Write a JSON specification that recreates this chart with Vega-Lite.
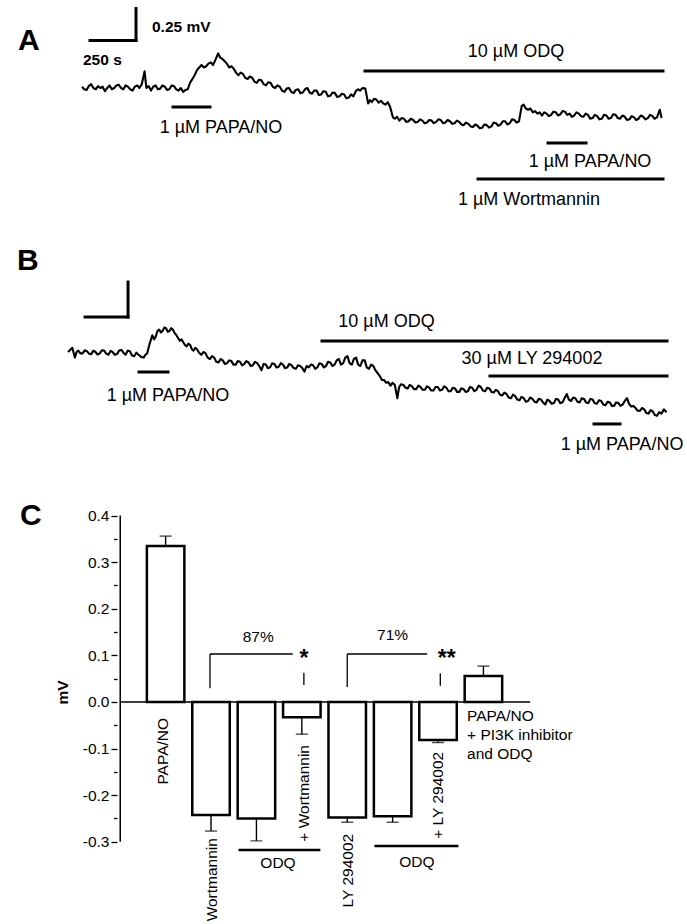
{
  "$schema": "https://vega.github.io/schema/vega-lite/v6.json",
  "padding": 0,
  "spacing": 0,
  "bounds": "flush",
  "config": {"view": {"stroke": null}, "font": "Liberation Sans", "text": {"color": "black"}},
  "vconcat": [
    {
      "width": 687, "height": 215,
      "encoding": {
        "x": {"field": "t", "type": "quantitative", "scale": {"domain": [-445.65, 3288.05], "nice": false, "zero": false}, "axis": null},
        "y": {"field": "v", "type": "quantitative", "scale": {"domain": [-0.9922, 0.6875], "nice": false, "zero": false}, "axis": null}
      },
      "layer": [
        {
          "data": {"values": [
            {"t":0,"v":0.01},{"t":12,"v":-0.01},{"t":25,"v":-0.015},{"t":37,"v":0.015},{"t":50,"v":0.03},{"t":62,"v":0.0},{"t":75,"v":-0.01},{"t":87,"v":0.015},{"t":100,"v":0.0},{"t":112,"v":0.01},{"t":125,"v":-0.025},{"t":137,"v":0.0},{"t":150,"v":0.02},{"t":162,"v":-0.01},{"t":175,"v":0.0},{"t":187,"v":0.02},{"t":200,"v":0.025},{"t":212,"v":0.0},{"t":225,"v":-0.01},{"t":237,"v":0.02},{"t":250,"v":0.01},{"t":262,"v":-0.01},{"t":275,"v":-0.02},{"t":287,"v":0.01},{"t":300,"v":0.02},{"t":312,"v":0.0},{"t":325,"v":0.03},{"t":340,"v":0.13},{"t":350,"v":0.0},{"t":362,"v":0.015},{"t":375,"v":-0.02},{"t":387,"v":0.01},{"t":400,"v":0.02},{"t":412,"v":-0.01},{"t":425,"v":-0.005},{"t":437,"v":0.02},{"t":450,"v":0.01},{"t":462,"v":-0.015},{"t":475,"v":-0.01},{"t":487,"v":0.02},{"t":500,"v":0.015},{"t":512,"v":-0.01},{"t":525,"v":-0.02},{"t":537,"v":0.0},{"t":550,"v":-0.03},{"t":562,"v":-0.015},{"t":575,"v":-0.01},{"t":587,"v":0.04},{"t":600,"v":0.07},{"t":612,"v":0.1},{"t":625,"v":0.14},{"t":637,"v":0.16},{"t":650,"v":0.18},{"t":662,"v":0.16},{"t":675,"v":0.17},{"t":687,"v":0.19},{"t":700,"v":0.2},{"t":712,"v":0.18},{"t":725,"v":0.22},{"t":740,"v":0.27},{"t":750,"v":0.24},{"t":760,"v":0.23},{"t":775,"v":0.21},{"t":787,"v":0.19},{"t":800,"v":0.16},{"t":812,"v":0.17},{"t":825,"v":0.15},{"t":837,"v":0.12},{"t":850,"v":0.1},{"t":862,"v":0.12},{"t":875,"v":0.11},{"t":887,"v":0.08},{"t":900,"v":0.07},{"t":912,"v":0.09},{"t":925,"v":0.08},{"t":937,"v":0.05},{"t":950,"v":0.04},{"t":962,"v":0.065},{"t":975,"v":0.06},{"t":987,"v":0.03},{"t":1000,"v":0.02},{"t":1012,"v":0.045},{"t":1025,"v":0.04},{"t":1037,"v":0.01},{"t":1050,"v":0.0},{"t":1062,"v":0.02},{"t":1075,"v":0.01},{"t":1087,"v":-0.02},{"t":1100,"v":-0.03},{"t":1112,"v":-0.005},{"t":1125,"v":0.0},{"t":1137,"v":-0.03},{"t":1150,"v":-0.04},{"t":1162,"v":-0.015},{"t":1175,"v":-0.01},{"t":1187,"v":-0.04},{"t":1200,"v":-0.035},{"t":1212,"v":-0.01},{"t":1225,"v":0.0},{"t":1237,"v":-0.035},{"t":1250,"v":-0.045},{"t":1262,"v":-0.02},{"t":1275,"v":-0.02},{"t":1287,"v":-0.055},{"t":1300,"v":-0.05},{"t":1312,"v":-0.025},{"t":1325,"v":-0.03},{"t":1337,"v":-0.065},{"t":1350,"v":-0.06},{"t":1362,"v":-0.035},{"t":1375,"v":-0.04},{"t":1387,"v":-0.07},{"t":1400,"v":-0.065},{"t":1412,"v":-0.045},{"t":1425,"v":-0.05},{"t":1437,"v":-0.08},{"t":1450,"v":-0.075},{"t":1462,"v":-0.05},{"t":1475,"v":-0.065},{"t":1490,"v":-0.02},{"t":1500,"v":-0.01},{"t":1512,"v":-0.02},{"t":1525,"v":0.0},{"t":1540,"v":-0.005},{"t":1555,"v":-0.12},{"t":1565,"v":-0.095},{"t":1575,"v":-0.11},{"t":1587,"v":-0.085},{"t":1600,"v":-0.09},{"t":1612,"v":-0.115},{"t":1625,"v":-0.1},{"t":1637,"v":-0.12},{"t":1650,"v":-0.13},{"t":1662,"v":-0.11},{"t":1675,"v":-0.15},{"t":1690,"v":-0.23},{"t":1700,"v":-0.24},{"t":1712,"v":-0.225},{"t":1725,"v":-0.255},{"t":1737,"v":-0.235},{"t":1750,"v":-0.24},{"t":1762,"v":-0.265},{"t":1775,"v":-0.26},{"t":1787,"v":-0.24},{"t":1800,"v":-0.25},{"t":1812,"v":-0.27},{"t":1825,"v":-0.265},{"t":1837,"v":-0.245},{"t":1850,"v":-0.255},{"t":1862,"v":-0.275},{"t":1875,"v":-0.27},{"t":1887,"v":-0.25},{"t":1900,"v":-0.255},{"t":1912,"v":-0.275},{"t":1925,"v":-0.265},{"t":1937,"v":-0.245},{"t":1950,"v":-0.25},{"t":1962,"v":-0.275},{"t":1975,"v":-0.27},{"t":1987,"v":-0.25},{"t":2000,"v":-0.26},{"t":2012,"v":-0.28},{"t":2025,"v":-0.275},{"t":2037,"v":-0.255},{"t":2050,"v":-0.265},{"t":2062,"v":-0.285},{"t":2075,"v":-0.29},{"t":2087,"v":-0.27},{"t":2100,"v":-0.28},{"t":2112,"v":-0.3},{"t":2125,"v":-0.305},{"t":2137,"v":-0.285},{"t":2150,"v":-0.295},{"t":2162,"v":-0.315},{"t":2175,"v":-0.31},{"t":2187,"v":-0.285},{"t":2200,"v":-0.29},{"t":2212,"v":-0.31},{"t":2225,"v":-0.3},{"t":2237,"v":-0.27},{"t":2250,"v":-0.275},{"t":2262,"v":-0.295},{"t":2275,"v":-0.285},{"t":2287,"v":-0.26},{"t":2300,"v":-0.26},{"t":2312,"v":-0.285},{"t":2325,"v":-0.275},{"t":2337,"v":-0.245},{"t":2350,"v":-0.25},{"t":2362,"v":-0.27},{"t":2375,"v":-0.26},{"t":2390,"v":-0.14},{"t":2400,"v":-0.13},{"t":2412,"v":-0.16},{"t":2425,"v":-0.17},{"t":2437,"v":-0.16},{"t":2450,"v":-0.19},{"t":2462,"v":-0.18},{"t":2475,"v":-0.2},{"t":2487,"v":-0.19},{"t":2500,"v":-0.215},{"t":2512,"v":-0.19},{"t":2525,"v":-0.2},{"t":2537,"v":-0.22},{"t":2550,"v":-0.21},{"t":2562,"v":-0.185},{"t":2575,"v":-0.19},{"t":2587,"v":-0.215},{"t":2600,"v":-0.205},{"t":2612,"v":-0.18},{"t":2625,"v":-0.185},{"t":2637,"v":-0.21},{"t":2650,"v":-0.2},{"t":2662,"v":-0.225},{"t":2675,"v":-0.215},{"t":2687,"v":-0.19},{"t":2700,"v":-0.2},{"t":2712,"v":-0.22},{"t":2725,"v":-0.225},{"t":2737,"v":-0.2},{"t":2750,"v":-0.21},{"t":2762,"v":-0.24},{"t":2775,"v":-0.235},{"t":2787,"v":-0.21},{"t":2800,"v":-0.22},{"t":2812,"v":-0.245},{"t":2825,"v":-0.24},{"t":2837,"v":-0.21},{"t":2850,"v":-0.215},{"t":2862,"v":-0.24},{"t":2875,"v":-0.235},{"t":2887,"v":-0.205},{"t":2900,"v":-0.21},{"t":2912,"v":-0.235},{"t":2925,"v":-0.24},{"t":2937,"v":-0.215},{"t":2950,"v":-0.225},{"t":2962,"v":-0.25},{"t":2975,"v":-0.245},{"t":2987,"v":-0.22},{"t":3000,"v":-0.23},{"t":3012,"v":-0.25},{"t":3025,"v":-0.24},{"t":3037,"v":-0.215},{"t":3050,"v":-0.225},{"t":3062,"v":-0.245},{"t":3075,"v":-0.235},{"t":3087,"v":-0.21},{"t":3100,"v":-0.22},{"t":3112,"v":-0.24},{"t":3125,"v":-0.23},{"t":3140,"v":-0.17},{"t":3150,"v":-0.235}
          ]},
          "mark": {"type": "line", "color": "black", "strokeWidth": 2.1, "strokeJoin": "round"}
        },
        {
          "data": {"values": [
            {"t": 43.5, "t2": 293.5, "v": 0.371},
            {"t": 494.6, "t2": 695.7, "v": -0.148},
            {"t": 1538, "t2": 3157.6, "v": 0.133},
            {"t": 2532.6, "t2": 2739.1, "v": -0.43},
            {"t": 2152.2, "t2": 3157.6, "v": -0.711}
          ]},
          "mark": {"type": "rule", "color": "black", "strokeWidth": 3, "strokeCap": "square"},
          "encoding": {"x2": {"field": "t2"}}
        },
        {
          "data": {"values": [{"t": 293.5, "v": 0.371, "v2": 0.621}]},
          "mark": {"type": "rule", "color": "black", "strokeWidth": 3, "strokeCap": "square"},
          "encoding": {"y2": {"field": "v2"}}
        },
        {
          "data": {"values": [
            {"t": 755.4, "v": -0.3125, "label": "1 µM PAPA/NO"},
            {"t": 2358.7, "v": 0.281, "label": "10 µM ODQ"},
            {"t": 2760.9, "v": -0.578, "label": "1 µM PAPA/NO"},
            {"t": 2429.4, "v": -0.875, "label": "1 µM Wortmannin"}
          ]},
          "mark": {"type": "text", "fontSize": 18, "align": "center", "baseline": "middle"},
          "encoding": {"text": {"field": "label"}}
        },
        {
          "data": {"values": [
            {"t": 380.4, "v": 0.477, "label": "0.25 mV"},
            {"t": 5.4, "v": 0.219, "label": "250 s"}
          ]},
          "mark": {"type": "text", "fontSize": 15.5, "fontWeight": "bold", "align": "left", "baseline": "middle"},
          "encoding": {"text": {"field": "label"}}
        },
        {
          "data": {"values": [{"t": -347.8, "v": 0.367, "label": "A"}]},
          "mark": {"type": "text", "fontSize": 30, "fontWeight": "bold", "align": "left", "baseline": "middle"},
          "encoding": {"text": {"field": "label"}}
        }
      ]
    },
    {
      "width": 687, "height": 245,
      "encoding": {
        "x": {"field": "t", "type": "quantitative", "scale": {"domain": [-395.35, 3598.87], "nice": false, "zero": false}, "axis": null},
        "y": {"field": "v", "type": "quantitative", "scale": {"domain": [-0.7714, 0.9786], "nice": false, "zero": false}, "axis": null}
      },
      "layer": [
        {
          "data": {"values": [
            {"t":0,"v":0.0},{"t":12,"v":0.015},{"t":25,"v":0.03},{"t":40,"v":-0.04},{"t":50,"v":0.0},{"t":60,"v":0.01},{"t":72,"v":-0.01},{"t":85,"v":-0.01},{"t":97,"v":0.012},{"t":110,"v":0.005},{"t":122,"v":-0.012},{"t":135,"v":-0.015},{"t":147,"v":0.01},{"t":160,"v":0.0},{"t":172,"v":-0.018},{"t":185,"v":-0.01},{"t":197,"v":0.012},{"t":210,"v":0.01},{"t":222,"v":-0.012},{"t":235,"v":-0.02},{"t":247,"v":0.008},{"t":260,"v":0.0},{"t":272,"v":-0.02},{"t":285,"v":-0.015},{"t":297,"v":0.01},{"t":310,"v":0.015},{"t":322,"v":-0.005},{"t":335,"v":-0.02},{"t":347,"v":0.01},{"t":360,"v":0.005},{"t":372,"v":-0.025},{"t":385,"v":-0.03},{"t":397,"v":-0.005},{"t":410,"v":-0.02},{"t":425,"v":-0.035},{"t":440,"v":-0.04},{"t":450,"v":-0.02},{"t":460,"v":-0.01},{"t":475,"v":0.06},{"t":490,"v":0.12},{"t":500,"v":0.09},{"t":510,"v":0.11},{"t":520,"v":0.15},{"t":530,"v":0.16},{"t":540,"v":0.14},{"t":550,"v":0.15},{"t":560,"v":0.175},{"t":570,"v":0.17},{"t":580,"v":0.145},{"t":590,"v":0.15},{"t":600,"v":0.17},{"t":610,"v":0.16},{"t":620,"v":0.135},{"t":630,"v":0.12},{"t":640,"v":0.1},{"t":650,"v":0.08},{"t":660,"v":0.09},{"t":670,"v":0.07},{"t":680,"v":0.05},{"t":690,"v":0.04},{"t":700,"v":0.06},{"t":710,"v":0.05},{"t":720,"v":0.02},{"t":730,"v":0.01},{"t":740,"v":0.03},{"t":750,"v":0.02},{"t":762,"v":-0.005},{"t":775,"v":-0.02},{"t":787,"v":0.0},{"t":800,"v":-0.01},{"t":812,"v":-0.04},{"t":825,"v":-0.05},{"t":837,"v":-0.03},{"t":850,"v":-0.04},{"t":862,"v":-0.07},{"t":875,"v":-0.075},{"t":887,"v":-0.05},{"t":900,"v":-0.06},{"t":912,"v":-0.085},{"t":925,"v":-0.08},{"t":937,"v":-0.06},{"t":950,"v":-0.065},{"t":962,"v":-0.09},{"t":975,"v":-0.09},{"t":987,"v":-0.065},{"t":1000,"v":-0.07},{"t":1012,"v":-0.095},{"t":1025,"v":-0.085},{"t":1037,"v":-0.065},{"t":1050,"v":-0.075},{"t":1062,"v":-0.1},{"t":1075,"v":-0.095},{"t":1087,"v":-0.07},{"t":1100,"v":-0.08},{"t":1112,"v":-0.1},{"t":1125,"v":-0.13},{"t":1137,"v":-0.085},{"t":1150,"v":-0.09},{"t":1162,"v":-0.115},{"t":1175,"v":-0.11},{"t":1187,"v":-0.08},{"t":1200,"v":-0.085},{"t":1212,"v":-0.11},{"t":1225,"v":-0.105},{"t":1237,"v":-0.08},{"t":1250,"v":-0.09},{"t":1262,"v":-0.115},{"t":1275,"v":-0.11},{"t":1287,"v":-0.085},{"t":1300,"v":-0.095},{"t":1312,"v":-0.115},{"t":1325,"v":-0.12},{"t":1337,"v":-0.095},{"t":1350,"v":-0.1},{"t":1362,"v":-0.115},{"t":1375,"v":-0.14},{"t":1387,"v":-0.1},{"t":1400,"v":-0.11},{"t":1412,"v":-0.09},{"t":1425,"v":-0.095},{"t":1437,"v":-0.12},{"t":1450,"v":-0.11},{"t":1462,"v":-0.08},{"t":1475,"v":-0.085},{"t":1487,"v":-0.11},{"t":1500,"v":-0.1},{"t":1512,"v":-0.07},{"t":1525,"v":-0.075},{"t":1537,"v":-0.1},{"t":1550,"v":-0.09},{"t":1562,"v":-0.06},{"t":1575,"v":-0.05},{"t":1587,"v":-0.09},{"t":1600,"v":-0.08},{"t":1612,"v":-0.04},{"t":1625,"v":-0.03},{"t":1637,"v":-0.08},{"t":1650,"v":-0.09},{"t":1662,"v":-0.05},{"t":1675,"v":-0.04},{"t":1687,"v":-0.09},{"t":1700,"v":-0.1},{"t":1712,"v":-0.06},{"t":1725,"v":-0.06},{"t":1737,"v":-0.11},{"t":1750,"v":-0.12},{"t":1762,"v":-0.09},{"t":1775,"v":-0.1},{"t":1787,"v":-0.13},{"t":1800,"v":-0.15},{"t":1812,"v":-0.17},{"t":1825,"v":-0.2},{"t":1837,"v":-0.2},{"t":1850,"v":-0.22},{"t":1862,"v":-0.215},{"t":1875,"v":-0.24},{"t":1887,"v":-0.22},{"t":1900,"v":-0.235},{"t":1915,"v":-0.33},{"t":1925,"v":-0.25},{"t":1937,"v":-0.23},{"t":1950,"v":-0.235},{"t":1962,"v":-0.255},{"t":1975,"v":-0.26},{"t":1987,"v":-0.235},{"t":2000,"v":-0.245},{"t":2012,"v":-0.265},{"t":2025,"v":-0.265},{"t":2037,"v":-0.24},{"t":2050,"v":-0.25},{"t":2062,"v":-0.27},{"t":2075,"v":-0.27},{"t":2087,"v":-0.245},{"t":2100,"v":-0.255},{"t":2112,"v":-0.275},{"t":2125,"v":-0.275},{"t":2137,"v":-0.25},{"t":2150,"v":-0.25},{"t":2162,"v":-0.275},{"t":2175,"v":-0.27},{"t":2187,"v":-0.245},{"t":2200,"v":-0.255},{"t":2212,"v":-0.28},{"t":2225,"v":-0.28},{"t":2237,"v":-0.255},{"t":2250,"v":-0.26},{"t":2262,"v":-0.285},{"t":2275,"v":-0.285},{"t":2287,"v":-0.26},{"t":2300,"v":-0.265},{"t":2312,"v":-0.285},{"t":2325,"v":-0.28},{"t":2337,"v":-0.25},{"t":2350,"v":-0.255},{"t":2362,"v":-0.28},{"t":2375,"v":-0.27},{"t":2387,"v":-0.24},{"t":2400,"v":-0.25},{"t":2412,"v":-0.275},{"t":2425,"v":-0.28},{"t":2437,"v":-0.255},{"t":2450,"v":-0.26},{"t":2462,"v":-0.285},{"t":2475,"v":-0.29},{"t":2487,"v":-0.27},{"t":2500,"v":-0.28},{"t":2512,"v":-0.305},{"t":2525,"v":-0.31},{"t":2537,"v":-0.29},{"t":2550,"v":-0.3},{"t":2562,"v":-0.325},{"t":2575,"v":-0.33},{"t":2587,"v":-0.305},{"t":2600,"v":-0.315},{"t":2612,"v":-0.34},{"t":2625,"v":-0.345},{"t":2637,"v":-0.32},{"t":2650,"v":-0.33},{"t":2662,"v":-0.355},{"t":2675,"v":-0.35},{"t":2687,"v":-0.325},{"t":2700,"v":-0.335},{"t":2712,"v":-0.355},{"t":2725,"v":-0.36},{"t":2737,"v":-0.335},{"t":2750,"v":-0.34},{"t":2762,"v":-0.36},{"t":2775,"v":-0.375},{"t":2787,"v":-0.34},{"t":2800,"v":-0.35},{"t":2812,"v":-0.37},{"t":2825,"v":-0.365},{"t":2837,"v":-0.335},{"t":2850,"v":-0.34},{"t":2862,"v":-0.365},{"t":2875,"v":-0.36},{"t":2887,"v":-0.33},{"t":2900,"v":-0.3},{"t":2912,"v":-0.34},{"t":2925,"v":-0.35},{"t":2937,"v":-0.325},{"t":2950,"v":-0.33},{"t":2962,"v":-0.355},{"t":2975,"v":-0.36},{"t":2987,"v":-0.33},{"t":3000,"v":-0.335},{"t":3012,"v":-0.36},{"t":3025,"v":-0.365},{"t":3037,"v":-0.335},{"t":3050,"v":-0.34},{"t":3062,"v":-0.365},{"t":3075,"v":-0.37},{"t":3087,"v":-0.345},{"t":3100,"v":-0.35},{"t":3112,"v":-0.375},{"t":3125,"v":-0.38},{"t":3137,"v":-0.355},{"t":3150,"v":-0.36},{"t":3162,"v":-0.385},{"t":3175,"v":-0.385},{"t":3187,"v":-0.36},{"t":3200,"v":-0.365},{"t":3212,"v":-0.385},{"t":3225,"v":-0.375},{"t":3237,"v":-0.35},{"t":3250,"v":-0.33},{"t":3262,"v":-0.37},{"t":3275,"v":-0.39},{"t":3287,"v":-0.385},{"t":3300,"v":-0.4},{"t":3312,"v":-0.42},{"t":3325,"v":-0.42},{"t":3337,"v":-0.4},{"t":3350,"v":-0.41},{"t":3362,"v":-0.435},{"t":3375,"v":-0.44},{"t":3387,"v":-0.415},{"t":3400,"v":-0.425},{"t":3412,"v":-0.45},{"t":3425,"v":-0.455},{"t":3437,"v":-0.43},{"t":3450,"v":-0.44},{"t":3465,"v":-0.41},{"t":3480,"v":-0.43}
          ]},
          "mark": {"type": "line", "color": "black", "strokeWidth": 2.1, "strokeJoin": "round"}
        },
        {
          "data": {"values": [
            {"t": 99, "t2": 349, "v": 0.25},
            {"t": 412.8, "t2": 581.4, "v": -0.143},
            {"t": 1476.8, "t2": 3482.6, "v": 0.0786},
            {"t": 2453.5, "t2": 3482.6, "v": -0.171},
            {"t": 3058.2, "t2": 3209.3, "v": -0.514}
          ]},
          "mark": {"type": "rule", "color": "black", "strokeWidth": 3, "strokeCap": "square"},
          "encoding": {"x2": {"field": "t2"}}
        },
        {
          "data": {"values": [{"t": 349, "v": 0.25, "v2": 0.5}]},
          "mark": {"type": "rule", "color": "black", "strokeWidth": 3, "strokeCap": "square"},
          "encoding": {"y2": {"field": "v2"}}
        },
        {
          "data": {"values": [
            {"t": 1851.8, "v": 0.214, "label": "10 µM ODQ"},
            {"t": 2697.7, "v": -0.05, "label": "30 µM LY 294002"},
            {"t": 581.4, "v": -0.314, "label": "1 µM PAPA/NO"},
            {"t": 3221, "v": -0.664, "label": "1 µM PAPA/NO"}
          ]},
          "mark": {"type": "text", "fontSize": 18, "align": "center", "baseline": "middle"},
          "encoding": {"text": {"field": "label"}}
        },
        {
          "data": {"values": [{"t": -296.5, "v": 0.65, "label": "B"}]},
          "mark": {"type": "text", "fontSize": 30, "fontWeight": "bold", "align": "left", "baseline": "middle"},
          "encoding": {"text": {"field": "label"}}
        }
      ]
    },
    {
      "width": 687, "height": 464,
      "encoding": {
        "x": {"field": "i", "type": "quantitative", "scale": {"domain": [-3.538, 11.374], "nice": false, "zero": false}, "axis": null},
        "y": {"field": "v", "type": "quantitative", "scale": {"domain": [-0.4764, 0.5193], "nice": false, "zero": false},
          "axis": {
            "orient": "left", "offset": -117, "domain": false, "grid": false,
            "values": [-0.3, -0.25, -0.2, -0.15, -0.1, -0.05, 0, 0.05, 0.1, 0.15, 0.2, 0.25, 0.3, 0.35, 0.4],
            "labelExpr": "abs(datum.value*10 - round(datum.value*10)) < 0.01 ? replace(format(datum.value, '.1f'), '\u2212', '-') : ''",
            "tickSize": {"condition": {"test": "abs(datum.value*10 - round(datum.value*10)) < 0.01", "value": 6}, "value": 3.5},
            "tickColor": "black", "tickWidth": 1.3,
            "labelColor": "black", "labelFont": "Liberation Sans", "labelFontSize": 15.5, "labelPadding": 2,
            "labelOverlap": false, "labelFlush": false,
            "title": "mV", "titleFont": "Liberation Sans", "titleFontWeight": "bold", "titleFontSize": 15.5, "titlePadding": 12, "titleColor": "black"
          }
        }
      },
      "layer": [
        {
          "data": {"values": [{"i": -1, "i2": 8.03, "v": 0}]},
          "mark": {"type": "rule", "color": "black", "strokeWidth": 1.5},
          "encoding": {"x2": {"field": "i2"}}
        },
        {
          "data": {"values": [{"i": -1, "v": -0.3, "v2": 0.4}]},
          "mark": {"type": "rule", "color": "black", "strokeWidth": 1.5},
          "encoding": {"y2": {"field": "v2"}}
        },
        {
          "data": {"values": [
            {"i": 0, "v": 0.335, "err": 0.356, "name": "PAPA/NO"},
            {"i": 1, "v": -0.2425, "err": -0.277, "name": "Wortmannin"},
            {"i": 2, "v": -0.25, "err": -0.298, "name": "ODQ"},
            {"i": 3, "v": -0.033, "err": -0.069, "name": "ODQ + Wortmannin"},
            {"i": 4, "v": -0.248, "err": -0.258, "name": "LY 294002"},
            {"i": 5, "v": -0.245, "err": -0.258, "name": "ODQ"},
            {"i": 6, "v": -0.0815, "err": -0.087, "name": "ODQ + LY 294002"},
            {"i": 7, "v": 0.056, "err": 0.077, "name": "PAPA/NO + PI3K inhibitor and ODQ"}
          ]},
          "layer": [
            {
              "mark": {"type": "rule", "color": "black", "strokeWidth": 1.4},
              "encoding": {"y2": {"field": "err"}}
            },
            {
              "mark": {"type": "tick", "orient": "horizontal", "color": "black", "size": 12, "thickness": 1.4},
              "encoding": {"y": {"field": "err", "type": "quantitative"}}
            },
            {
              "mark": {"type": "bar", "width": 37.5, "fill": "white", "stroke": "black", "strokeWidth": 2.5},
              "encoding": {"y2": {"datum": 0}}
            }
          ]
        },
        {
          "data": {"values": [
            {"i": 0.977, "i2": 2.8, "v": 0.103},
            {"i": 4.0, "i2": 5.76, "v": 0.103},
            {"i": 1.606, "i2": 3.408, "v": -0.3176, "w": "thick"},
            {"i": 4.6, "i2": 6.45, "v": -0.309, "w": "thick"}
          ]},
          "mark": {"type": "rule", "color": "black"},
          "encoding": {
            "x2": {"field": "i2"},
            "strokeWidth": {"condition": {"test": "datum.w == 'thick'", "value": 2.5}, "value": 1.3}
          }
        },
        {
          "data": {"values": [
            {"i": 0.977, "v": 0.0294, "v2": 0.103},
            {"i": 4.0, "v": 0.032, "v2": 0.103},
            {"i": 3.045, "v": 0.0365, "v2": 0.063},
            {"i": 6.05, "v": 0.035, "v2": 0.0615}
          ]},
          "mark": {"type": "rule", "color": "black", "strokeWidth": 1.3},
          "encoding": {"y2": {"field": "v2"}}
        },
        {
          "data": {"values": [
            {"i": 2.04, "v": 0.14, "label": "87%"},
            {"i": 5.0, "v": 0.144, "label": "71%"},
            {"i": 2.475, "v": -0.3455, "label": "ODQ"},
            {"i": 5.535, "v": -0.343, "label": "ODQ"}
          ]},
          "mark": {"type": "text", "fontSize": 15.5, "align": "center", "baseline": "middle"},
          "encoding": {"text": {"field": "label"}}
        },
        {
          "data": {"values": [
            {"i": 3.045, "v": 0.077, "label": "*"},
            {"i": 6.19, "v": 0.077, "label": "**"}
          ]},
          "mark": {"type": "text", "fontSize": 23, "fontWeight": "bold", "align": "center", "baseline": "alphabetic"},
          "encoding": {"text": {"field": "label"}}
        },
        {
          "data": {"values": [
            {"i": -0.065, "v": -0.0343, "label": "PAPA/NO"},
            {"i": 1.02, "v": -0.292, "label": "Wortmannin"},
            {"i": 3.04, "v": -0.0923, "label": "+ Wortmannin"},
            {"i": 4.016, "v": -0.283, "label": "LY 294002"},
            {"i": 5.99, "v": -0.107, "label": "+ LY 294002"}
          ]},
          "mark": {"type": "text", "fontSize": 15.5, "angle": 270, "align": "right", "baseline": "middle"},
          "encoding": {"text": {"field": "label"}}
        },
        {
          "data": {"values": [{"i": 6.64, "v": -0.015, "label": "PAPA/NO\n+ PI3K inhibitor\nand ODQ"}]},
          "mark": {"type": "text", "fontSize": 15.5, "align": "left", "baseline": "top", "lineBreak": "\n", "lineHeight": 19},
          "encoding": {"text": {"field": "label"}}
        },
        {
          "data": {"values": [{"i": -3.21, "v": 0.399, "label": "C"}]},
          "mark": {"type": "text", "fontSize": 30, "fontWeight": "bold", "align": "left", "baseline": "middle"},
          "encoding": {"text": {"field": "label"}}
        }
      ]
    }
  ]
}
